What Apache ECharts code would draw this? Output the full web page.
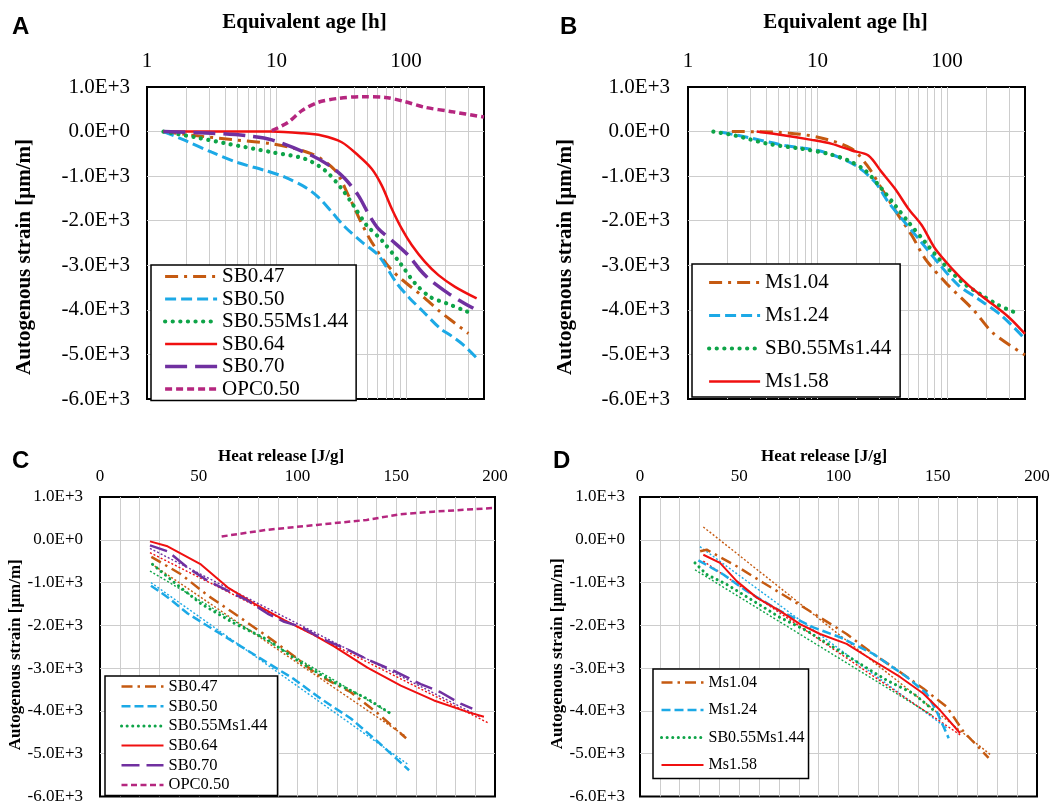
<!DOCTYPE html>
<html><head><meta charset="utf-8">
<script src="https://cdn.jsdelivr.net/npm/echarts@6/dist/echarts.min.js"></script>
<style>html,body{margin:0;padding:0;background:#fff}#c{width:1060px;height:805px}</style>
</head><body><div id="c"></div>
<script>
// ---------------- DATA ----------------
// Panel A: equivalent age [h] vs autogenous strain [µm/m]
const A_SB047 = [[1.34,0],[2.35,-90],[4.5,-180],[9.2,-275],[18.7,-500],[28.3,-870],[35.9,-1430],[44.2,-1990],[54.3,-2480],[77.6,-3110],[136,-3710],[183,-4040],[239,-4300],[303,-4530]];
const A_SB050 = [[1.34,0],[1.97,-200],[3.16,-463],[5.07,-700],[8.15,-872],[11.6,-1022],[16.6,-1246],[21,-1470],[26.7,-1805],[33.8,-2140],[45.5,-2476],[61,-2774],[84.7,-3400],[107,-3743],[136,-4042],[183,-4414],[219,-4564],[277,-4787],[351,-5080]];
const A_SB055 = [[1.34,0],[2.35,-127],[4.24,-276],[9.2,-463],[16.6,-612],[23.7,-872],[31.9,-1283],[39.2,-1655],[49.7,-2103],[64.9,-2438],[90,-2950],[117,-3400],[153,-3707],[206,-3855],[277,-4004],[321,-4079]];
const A_SB064 = [[1.34,0],[9.2,0],[15.7,-37],[22.3,-89],[31.9,-239],[42.8,-537],[54.3,-835],[64.9,-1208],[77.6,-1730],[92.6,-2177],[111,-2550],[140,-2923],[178,-3221],[239,-3483],[351,-3743]];
const A_SB070 = [[1.34,0],[3.16,-37],[5.71,-89],[9.2,-186],[18.7,-537],[26.7,-798],[33.8,-1059],[42.8,-1432],[51.2,-1842],[61.1,-2177],[77.6,-2438],[104,-2774],[128,-3100],[149,-3296],[173,-3445],[212,-3631],[269,-3818],[331,-3966]];
const A_OPC050 = [[9.2,20],[12.3,208],[15.7,470],[21,656],[30,745],[45.5,783],[68.8,767],[98,671],[140,544],[225,447],[400,325]];

// Panel B
const B_Ms104 = [[2.18,0],[4.98,-15],[10.1,-127],[18.4,-387],[24.7,-798],[31.3,-1283],[42.1,-1879],[53.4,-2327],[67.6,-2848],[99,-3408],[160,-4004],[228,-4526],[400,-5011]];
const B_Ms124 = [[1.82,-15],[3.1,-149],[5.61,-313],[10.1,-425],[14.5,-574],[20.6,-798],[27.8,-1134],[35.2,-1581],[44.7,-1953],[60.1,-2401],[85.7,-2950],[122,-3445],[175,-3760],[264,-4130],[390,-4620]];
const B_SB055 = [[1.57,0],[2.31,-89],[4.17,-276],[7.55,-387],[12.1,-499],[17.3,-649],[23.3,-872],[31.3,-1283],[39.7,-1655],[50.3,-2029],[67.6,-2476],[91,-2923],[130,-3371],[185,-3669],[249,-3893],[325,-4042]];
const B_Ms158 = [[3.39,0],[5.61,-89],[9,-186],[12.9,-276],[18.4,-425],[24.7,-537],[31.3,-910],[39.7,-1283],[50.3,-1730],[63.8,-2103],[80.8,-2625],[109,-3073],[146,-3445],[196,-3743],[297,-4154],[400,-4540]];

// Panel C: heat release [J/g] vs autogenous strain
const C_SB047 = [[26,-400],[41,-805],[54.5,-1300],[68,-1724],[84.8,-2261],[98.3,-2720],[110,-3150],[127,-3563],[140.5,-4050],[155,-4640]];
const C_SB050 = [[25.8,-1073],[34.2,-1341],[44.4,-1724],[57.8,-2107],[71.3,-2490],[84.8,-2874],[98.3,-3257],[111.8,-3716],[127,-4176],[140.5,-4713],[156.5,-5387]];
const C_SB055 = [[26.6,-575],[37.6,-996],[51.1,-1494],[68,-1954],[84.8,-2337],[101.7,-2874],[118.5,-3333],[135.4,-3716],[147.2,-4061]];
const C_SB064 = [[25.3,-38],[34.2,-153],[51.1,-575],[64.6,-1111],[78.1,-1494],[93.3,-1877],[106.7,-2184],[118.5,-2490],[135.4,-2989],[152.3,-3410],[169.1,-3755],[186,-4023],[194.4,-4138]];
const C_SB070 = [[25.3,-130],[34.2,-268],[44.4,-651],[54.5,-958],[64.6,-1188],[74.7,-1418],[84.8,-1724],[93.3,-1916],[101.7,-2031],[111.8,-2299],[123.6,-2529],[135.4,-2797],[148.9,-3065],[162.4,-3372],[172.5,-3563],[182.6,-3831],[188.5,-3946]];
const C_OPC050 = [[61.6,77],[84.4,232],[109.7,348],[135,464],[151.9,595],[168.8,657],[200,745]];
// linear fits (end points) in panel C
const C_fit_SB047 = [[26,-560],[155,-4600]];
const C_fit_SB050 = [[25.8,-1000],[156,-5250]];
const C_fit_SB055 = [[25.3,-730],[147,-4060]];
const C_fit_SB064 = [[25.3,-300],[197,-4290]];
const C_fit_SB070 = [[25.3,-200],[193,-4150]];

// Panel D
const D_Ms104 = [[30.3,-268],[33.6,-232],[48.7,-618],[62.1,-1004],[77.2,-1429],[90.7,-1815],[104.1,-2202],[117.5,-2666],[131,-3090],[142.7,-3477],[154.5,-3902],[163,-4483],[175.6,-5096]];
const D_Ms124 = [[29.4,-480],[42,-811],[53.7,-1198],[70.5,-1662],[87.3,-2047],[100.8,-2279],[117.5,-2666],[134.4,-3206],[144.4,-3593],[149.6,-4023],[155.5,-4636]];
const D_SB055 = [[27.7,-541],[33.6,-811],[43.7,-1043],[57.1,-1429],[70.5,-1815],[84,-2125],[97.4,-2511],[110.8,-2898],[124.3,-3284],[137.7,-3593],[147.8,-3980]];
const D_Ms158 = [[31.9,-350],[40.3,-541],[48.7,-966],[58.8,-1352],[70.5,-1662],[80.6,-1970],[90.7,-2202],[104.1,-2434],[117.5,-2821],[131,-3206],[142.7,-3593],[151.1,-3980],[161.3,-4521]];
const D_fit_Ms104 = [[31.9,300],[176.5,-5020]];
const D_fit_Ms124 = [[30.2,-160],[154.6,-4400]];
const D_fit_SB055 = [[27.7,-700],[147,-4100]];
const D_fit_Ms158 = [[31.9,-500],[161.3,-4560]];

// Tick labels
const strainTicks = [1000, 0, -1000, -2000, -3000, -4000, -5000, -6000];
const strainLabels = ['1.0E+3', '0.0E+0', '-1.0E+3', '-2.0E+3', '-3.0E+3', '-4.0E+3', '-5.0E+3', '-6.0E+3'];
const ageTicks = [1, 10, 100];
const ageLabels = ['1', '10', '100'];
const heatTicks = [0, 50, 100, 150, 200];
const heatLabels = ['0', '50', '100', '150', '200'];
const ageGridLines = [2,3,4,5,6,7,8,9,10,20,30,40,50,60,70,80,90,100,200,300];

// ---------------- STYLE ----------------
const SERIF = 'Liberation Serif';
const SANS = 'Liberation Sans';
const GRIDC = '#cdcdcd';
const COL = {orange:'#C55A11', cyan:'#1CA9E6', green:'#0EA448', red:'#F01010', purple:'#7030A0', magenta:'#B5267F'};

function strainFmt(v){ const i = strainTicks.indexOf(Math.round(v)); return i >= 0 ? strainLabels[i] : ''; }
function ageFmt(v){ for (let i = 0; i < ageTicks.length; i++) if (Math.abs(v - ageTicks[i]) < 1e-6 * ageTicks[i]) return ageLabels[i]; return ''; }
function heatFmt(v){ const i = heatTicks.indexOf(Math.round(v)); return i >= 0 ? heatLabels[i] : ''; }

const big = 21, small = 17;

function grid(l, t, w, h){ return {left:l, top:t, width:w, height:h, show:true, borderColor:'#000', borderWidth:2, backgroundColor:'#fff', containLabel:false}; }

function xLog(gi){
  return {type:'log', logBase:10, min:1, max:400, gridIndex:gi, position:'top',
    axisLine:{show:false}, axisTick:{show:false}, splitLine:{show:false},
    axisLabel:{formatter:ageFmt, fontFamily:SERIF, fontSize:big, color:'#000', margin:15},
    name:'Equivalent age [h]', nameLocation:'middle', nameGap:54,
    nameTextStyle:{fontFamily:SERIF, fontWeight:'bold', fontSize:big, color:'#000', padding:[0,22,0,0]}};
}
function xHeat(gi, pad){
  return {type:'value', min:0, max:200, interval:50, gridIndex:gi, position:'top',
    axisLine:{show:false, onZero:false}, axisTick:{show:false},
    splitLine:{show:true, showMinLine:false, showMaxLine:false, lineStyle:{color:GRIDC, width:1}},
    minorTick:{show:false, splitNumber:5},
    minorSplitLine:{show:true, lineStyle:{color:GRIDC, width:1}},
    axisLabel:{formatter:heatFmt, fontFamily:SERIF, fontSize:small, color:'#000', margin:12},
    name:'Heat release [J/g]', nameLocation:'middle', nameGap:32,
    nameTextStyle:{fontFamily:SERIF, fontWeight:'bold', fontSize:small, color:'#000', padding:[0,pad,0,0]}};
}
function yStrain(gi, fs, gap, pad, margin){
  return {type:'value', min:-6000, max:1000, interval:1000, gridIndex:gi,
    axisLine:{show:false}, axisTick:{show:false},
    splitLine:{show:true, showMinLine:false, showMaxLine:false, lineStyle:{color:GRIDC, width:1}},
    axisLabel:{formatter:strainFmt, fontFamily:SERIF, fontSize:fs, color:'#000', margin:margin},
    name:'Autogenous strain [μm/m]', nameLocation:'middle', nameGap:gap, nameRotate:90,
    nameTextStyle:{fontFamily:SERIF, fontWeight:'bold', fontSize:fs, color:'#000', padding:[0,pad,0,0]}};
}

function ser(name, data, gi, color, width, type, opts){
  const s = {name:name, type:'line', data:data, xAxisIndex:gi, yAxisIndex:gi, symbol:'none', showSymbol:false,
    lineStyle:{color:color, width:width, type:type, cap:(opts && opts.cap) || 'butt'},
    itemStyle:{color:color}, smooth:(opts && opts.smooth) || false, animation:false, silent:true, z:2};
  if (opts && opts.markLine) s.markLine = opts.markLine;
  return s;
}
function fit(name, data, gi, color){
  return ser(name, data, gi, color, 1.4, [2, 2]);
}
function gridMark(){
  return {silent:true, symbol:['none','none'], label:{show:false}, animation:false, z:1,
    lineStyle:{color:GRIDC, width:1, type:'solid'}, emphasis:{disabled:true},
    data: ageGridLines.map(v => ({xAxis:v}))};
}

// dash patterns
const DASH = {
  dashdot:[13,6,3,6], dash:[11,5], dot:[0.1,7.5], solid:'solid', longdash:[22,8], short:[7,4]
};
const DASHs = {
  dashdot:[11,5,2.5,5], dash:[9,4], dot:[0.1,5.5], solid:'solid', longdash:[18,7], short:[6,3.5]
};
const SM = 0.3;

const series = [
  // A
  ser('SB0.47', A_SB047, 0, COL.orange, 3, DASH.dashdot, {smooth:SM, markLine:gridMark()}),
  ser('SB0.50', A_SB050, 0, COL.cyan, 3, DASH.dash, {smooth:SM}),
  ser('SB0.55Ms1.44', A_SB055, 0, COL.green, 4.2, DASH.dot, {smooth:SM, cap:'round'}),
  ser('SB0.64', A_SB064, 0, COL.red, 2.5, 'solid', {smooth:SM}),
  ser('SB0.70', A_SB070, 0, COL.purple, 3.5, DASH.longdash, {smooth:SM}),
  ser('OPC0.50', A_OPC050, 0, COL.magenta, 3.5, DASH.short, {smooth:SM}),
  // B
  ser('Ms1.04', B_Ms104, 1, COL.orange, 3, DASH.dashdot, {smooth:SM, markLine:gridMark()}),
  ser('Ms1.24', B_Ms124, 1, COL.cyan, 3, DASH.dash, {smooth:SM}),
  ser('SB0.55Ms1.44', B_SB055, 1, COL.green, 4.2, DASH.dot, {smooth:SM, cap:'round'}),
  ser('Ms1.58', B_Ms158, 1, COL.red, 2.5, 'solid', {smooth:SM}),
  // C
  fit('fit SB0.47 C', C_fit_SB047, 2, COL.orange),
  fit('fit SB0.50 C', C_fit_SB050, 2, COL.cyan),
  fit('fit SB0.55 C', C_fit_SB055, 2, COL.green),
  fit('fit SB0.64 C', C_fit_SB064, 2, COL.red),
  fit('fit SB0.70 C', C_fit_SB070, 2, COL.purple),
  ser('SB0.47', C_SB047, 2, COL.orange, 2.5, DASHs.dashdot),
  ser('SB0.50', C_SB050, 2, COL.cyan, 2.5, DASHs.dash),
  ser('SB0.55Ms1.44', C_SB055, 2, COL.green, 3, DASHs.dot, {cap:'round'}),
  ser('SB0.64', C_SB064, 2, COL.red, 2, 'solid'),
  ser('SB0.70', C_SB070, 2, COL.purple, 2.5, DASHs.longdash),
  ser('OPC0.50', C_OPC050, 2, COL.magenta, 2.5, DASHs.short),
  // D
  fit('fit Ms1.04 D', D_fit_Ms104, 3, COL.orange),
  fit('fit Ms1.24 D', D_fit_Ms124, 3, COL.cyan),
  fit('fit SB0.55 D', D_fit_SB055, 3, COL.green),
  fit('fit Ms1.58 D', D_fit_Ms158, 3, COL.red),
  ser('Ms1.04', D_Ms104, 3, COL.orange, 2.5, DASHs.dashdot),
  ser('Ms1.24', D_Ms124, 3, COL.cyan, 2.5, DASHs.dash),
  ser('SB0.55Ms1.44', D_SB055, 3, COL.green, 3, DASHs.dot, {cap:'round'}),
  ser('Ms1.58', D_Ms158, 3, COL.red, 2, 'solid')
];

function legend(names, styles, l, t, o){
  return {orient:'vertical', left:l, top:t, selectedMode:false,
    padding:o.padding, itemGap:o.gap, itemWidth:o.iw, itemHeight:14,
    borderColor:'#000', borderWidth:1.5, backgroundColor:'#fff', borderRadius:0,
    textStyle:{fontFamily:SERIF, fontSize:o.fs, lineHeight:o.lh, color:'#000'},
    itemStyle:{opacity:0},
    data: names.map((n, i) => ({name:n, lineStyle:styles[i], itemStyle:{opacity:0}})),
    z:10};
}

const option = {
  backgroundColor:'#fff',
  animation:false,
  title:[
    {text:'A', left:12, top:15, padding:0, textStyle:{fontFamily:SANS, fontWeight:'bold', fontSize:24, color:'#000'}},
    {text:'B', left:560, top:15, padding:0, textStyle:{fontFamily:SANS, fontWeight:'bold', fontSize:24, color:'#000'}},
    {text:'C', left:12, top:449, padding:0, textStyle:{fontFamily:SANS, fontWeight:'bold', fontSize:24, color:'#000'}},
    {text:'D', left:553, top:449, padding:0, textStyle:{fontFamily:SANS, fontWeight:'bold', fontSize:24, color:'#000'}}
  ],
  grid:[grid(147,87,337,312), grid(688,87,337,312), grid(100,497,395,302), grid(640,497,397,302)],
  xAxis:[xLog(0), xLog(1), xHeat(2,33), xHeat(3,29)],
  yAxis:[yStrain(0,big,112,28,17), yStrain(1,big,112,28,18), yStrain(2,small,69,16,17), yStrain(3,small,67,14,15)],
  legend:[
    legend(['SB0.47','SB0.50','SB0.55Ms1.44','SB0.64','SB0.70','OPC0.50'],
      [{color:COL.orange,width:3,type:DASH.dashdot},{color:COL.cyan,width:3,type:DASH.dash},{color:COL.green,width:4.2,type:DASH.dot,cap:'round'},{color:COL.red,width:2.5,type:'solid'},{color:COL.purple,width:3.5,type:DASH.longdash},{color:COL.magenta,width:3.5,type:DASH.short}],
      151, 265, {padding:[1,8,1,12], gap:1.5, iw:52, fs:21, lh:20}),
    legend(['Ms1.04','Ms1.24','SB0.55Ms1.44','Ms1.58'],
      [{color:COL.orange,width:3,type:DASH.dashdot},{color:COL.cyan,width:3,type:DASH.dash},{color:COL.green,width:4.2,type:DASH.dot,cap:'round'},{color:COL.red,width:2.5,type:'solid'}],
      692, 264, {padding:[8,9,5,15], gap:12, iw:51, fs:21, lh:20}),
    legend(['SB0.47','SB0.50','SB0.55Ms1.44','SB0.64','SB0.70','OPC0.50'],
      [{color:COL.orange,width:2.5,type:DASHs.dashdot},{color:COL.cyan,width:2.5,type:DASHs.dash},{color:COL.green,width:3,type:DASHs.dot,cap:'round'},{color:COL.red,width:2,type:'solid'},{color:COL.purple,width:2.5,type:DASHs.longdash},{color:COL.magenta,width:2.5,type:DASHs.short}],
      105, 676, {padding:[2,10,2,15], gap:2.7, iw:42, fs:16.5, lh:17}),
    legend(['Ms1.04','Ms1.24','SB0.55Ms1.44','Ms1.58'],
      [{color:COL.orange,width:2.5,type:DASHs.dashdot},{color:COL.cyan,width:2.5,type:DASHs.dash},{color:COL.green,width:3,type:DASHs.dot,cap:'round'},{color:COL.red,width:2,type:'solid'}],
      653, 669, {padding:[5,4,5,7], gap:10.5, iw:42, fs:16, lh:17})
  ],
  series: series
};

const chart = echarts.init(document.getElementById('c'), null, {renderer:'canvas'});
chart.setOption(option);
</script></body></html>
